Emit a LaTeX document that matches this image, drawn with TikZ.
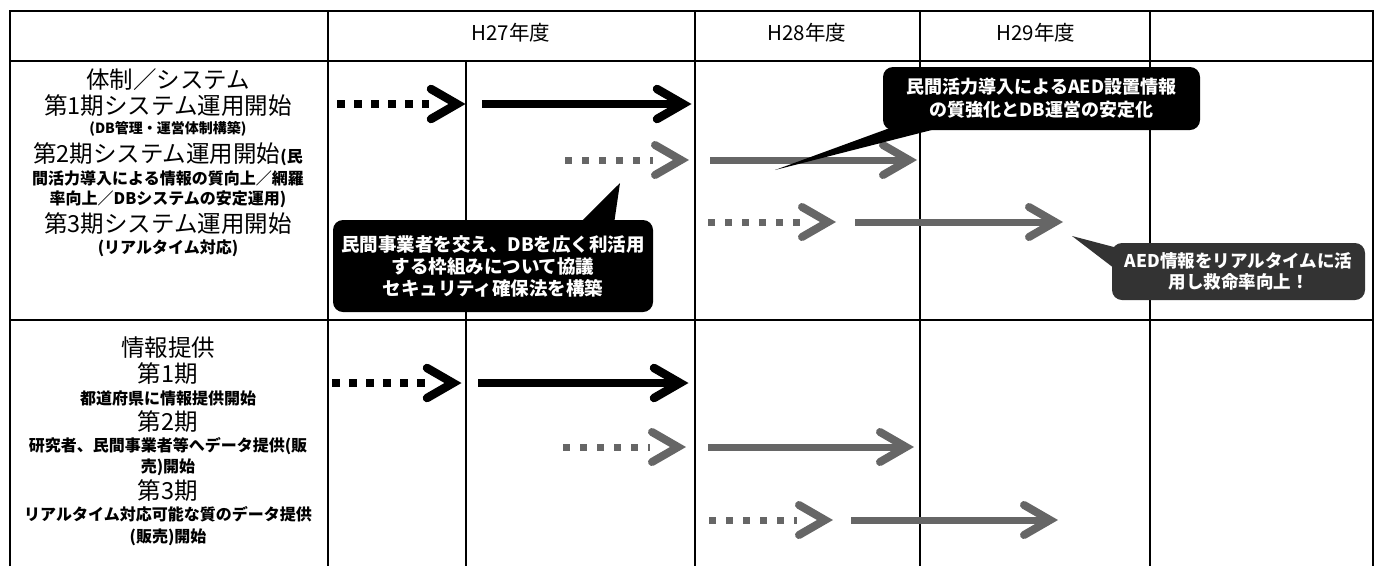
\documentclass[tikz,border=0pt]{standalone}
\usepackage{fontspec}
\setmainfont{Noto Sans CJK JP}
\usetikzlibrary{calc}
\definecolor{gr}{gray}{0.40}
\definecolor{dk}{gray}{0.20}
\tikzset{
  gridline/.style={line width=1.7pt, black},
  big/.style={inner sep=0pt, font=\fontsize{23.5}{26}\selectfont},
  sml/.style={inner sep=0pt, font=\fontsize{16}{18}\selectfont\bfseries},
  tiny/.style={inner sep=0pt, font=\fontsize{14}{16}\selectfont\bfseries},
  hdr/.style={inner sep=0pt, font=\fontsize{20.5}{22}\selectfont},
  bdots/.style={black, line width=8pt, dash pattern=on 8pt off 9pt},
  bshaft/.style={black, line width=8.5pt},
  bhead/.style={black, line width=8.5pt, line cap=round, line join=miter},
  gdots/.style={gr, line width=7pt, dash pattern=on 7pt off 10pt},
  gshaft/.style={gr, line width=7pt},
  ghead/.style={gr, line width=8pt, line cap=round, line join=miter},
  callout/.style={rounded corners=10pt, inner sep=0pt, text=white, align=center},
}
\newcommand{\chevat}[2]{\draw[#1] ($(#2)+(-35,-15)$) -- ($(#2)+(-9,0)$) -- ($(#2)+(-35,15)$);}
\newcommand{\dotarrow}[4]{\draw[#1] (#3) -- ($(#4)+(-37,0)$); \chevat{#2}{#4}}
\newcommand{\solarrow}[4]{\draw[#1] (#3) -- ($(#4)+(-10,0)$); \chevat{#2}{#4}}
\begin{document}
\begin{tikzpicture}[x=1pt,y=-1pt]
\useasboundingbox (0,0) rectangle (1379,566);
% grid
\draw[gridline] (10,566) -- (10,11) -- (1373,11) -- (1373,566);
\draw[gridline] (10,61) -- (1373,61);
\draw[gridline] (10,320) -- (1373,320);
\foreach \x in {328,695,920,1150} \draw[gridline] (\x,11) -- (\x,566);
\draw[gridline] (466,61) -- (466,566);
% header
\node[hdr] (h27) at (511,33) {H27年度};
\node[hdr] (h28) at (807,33) {H28年度};
\node[hdr] (h29) at (1036,33) {H29年度};
% left column row 1
\node[big] (r1a) at (168,80) {体制／システム};
\node[big] (r1b) at (168,106) {第1期システム運用開始};
\node[tiny] (r1c) at (168,129) {(DB管理・運営体制構築)};
\node[big] (r1d) at (168,154) {第2期システム運用開始{\fontsize{16}{18}\selectfont\bfseries (民}};
\node[sml] (r1e) at (168,178) {間活力導入による情報の質向上／網羅};
\node[sml] (r1f) at (168,199) {率向上／DBシステムの安定運用)};
\node[big] (r1g) at (168,224) {第3期システム運用開始};
\node[sml] (r1h) at (168,248) {(リアルタイム対応)};
% left column row 2
\node[big] (r2a) at (168,348) {情報提供};
\node[big] (r2b) at (168,374) {第1期};
\node[sml] (r2c) at (168,398) {都道府県に情報提供開始};
\node[big] (r2d) at (168,422) {第2期};
\node[sml] (r2e) at (168,446) {研究者、民間事業者等へデータ提供(販};
\node[sml] (r2f) at (168,467) {売)開始};
\node[big] (r2g) at (168,491) {第3期};
\node[sml] (r2h) at (168,514) {リアルタイム対応可能な質のデータ提供};
\node[sml] (r2i) at (168,537) {(販売)開始};
% arrows row 1
\coordinate (a1s) at (337,104); \coordinate (a1t) at (466,104);
\coordinate (a2s) at (482,104); \coordinate (a2t) at (692,104);
\coordinate (a3s) at (565,160); \coordinate (a3t) at (690,160);
\coordinate (a4s) at (710,160); \coordinate (a4t) at (918,160);
\coordinate (a5s) at (708,222); \coordinate (a5t) at (837,222);
\coordinate (a6s) at (855,222); \coordinate (a6t) at (1064,222);
\dotarrow{bdots}{bhead}{a1s}{a1t}
\solarrow{bshaft}{bhead}{a2s}{a2t}
\dotarrow{gdots}{ghead}{a3s}{a3t}
\solarrow{gshaft}{ghead}{a4s}{a4t}
\dotarrow{gdots}{ghead}{a5s}{a5t}
\solarrow{gshaft}{ghead}{a6s}{a6t}
% arrows row 2
\coordinate (b1s) at (332,383); \coordinate (b1t) at (462,383);
\coordinate (b2s) at (478,383); \coordinate (b2t) at (689,383);
\coordinate (b3s) at (563,447); \coordinate (b3t) at (687,447);
\coordinate (b4s) at (708,447); \coordinate (b4t) at (915,447);
\coordinate (b5s) at (709,520); \coordinate (b5t) at (834,520);
\coordinate (b6s) at (851,520); \coordinate (b6t) at (1059,520);
\dotarrow{bdots}{bhead}{b1s}{b1t}
\solarrow{bshaft}{bhead}{b2s}{b2t}
\dotarrow{gdots}{ghead}{b3s}{b3t}
\solarrow{gshaft}{ghead}{b4s}{b4t}
\dotarrow{gdots}{ghead}{b5s}{b5t}
\solarrow{gshaft}{ghead}{b6s}{b6t}
% callout A
\node[callout, fill=black, minimum width=317pt, minimum height=63pt,
      font=\fontsize{18}{23}\selectfont\bfseries] (coA) at (1041.5,98.5)
      {民間活力導入によるAED設置情報\\の質強化とDB運営の安定化};
\coordinate (tA) at (775,170);
\fill[black] ($(coA.south west)+(12,-4)$) -- (tA) -- ($(coA.south west)+(52,-1)$) -- cycle;
% callout B
\node[callout, fill=black, minimum width=320pt, minimum height=92pt,
      font=\fontsize{18.5}{22}\selectfont\bfseries] (coB) at (493,266)
      {民間事業者を交え、DBを広く利活用\\する枠組みについて協議\\セキュリティ確保法を構築};
\coordinate (tB) at (620,183);
\fill[black] ($(coB.north)+(86,4)$) -- (tB) -- ($(coB.north)+(121,4)$) -- cycle;
% callout C
\node[callout, fill=dk, minimum width=253pt, minimum height=57pt,
      font=\fontsize{17.5}{21}\selectfont\bfseries] (coC) at (1238.5,271.5)
      {AED情報をリアルタイムに活\\用し救命率向上！};
\coordinate (tC) at (1072,236);
\fill[dk] ($(coC.west)+(2,-24.5)$) -- (tC) -- ($(coC.west)+(2,-3.5)$) -- cycle;
\end{tikzpicture}
\end{document}
